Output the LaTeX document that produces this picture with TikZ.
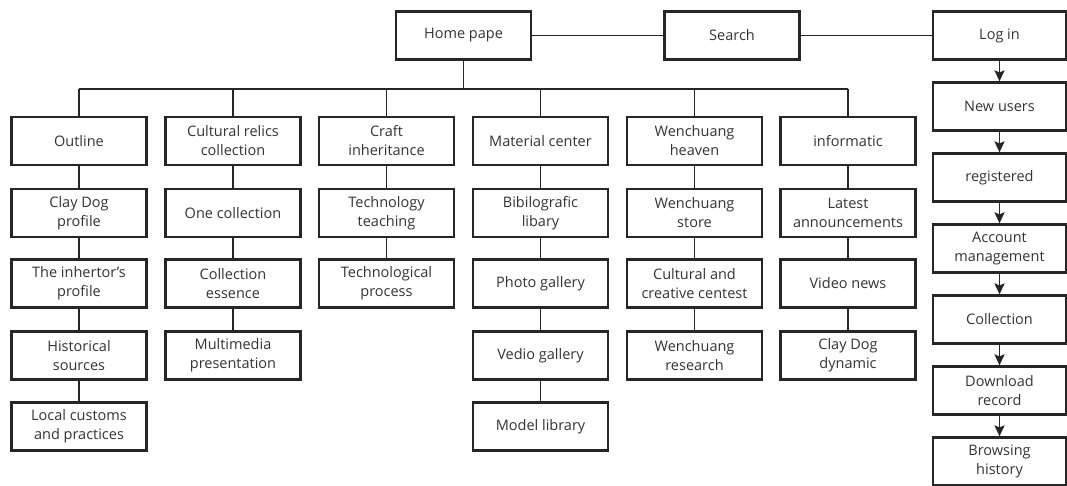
\documentclass[tikz,border=0pt]{standalone}
\usepackage{fontspec}
\setmainfont{Open Sans}
\usetikzlibrary{arrows.meta}

\begin{document}
\begin{tikzpicture}[x=1pt, y=-1pt, >={Stealth[length=11pt,width=10pt,inset=2pt]},
    box/.style={draw=black!85, line width=2.2pt, minimum width=135pt, minimum height=48pt,
        align=center, inner sep=2pt, text=black!80, font=\fontsize{14.5}{19}\selectfont},
    sidebox/.style={box, minimum width=133pt},
    link/.style={draw=black!85, line width=1.9pt}]
    \useasboundingbox (0,0) rectangle (1067,486);

    % top row
    \node[box] (home) at (463.5,35.5) {Home pape};
    \node[box] (search) at (732,35.5) {Search};
    \node[sidebox] (login) at (999.5,35.5) {Log in};
    \draw[link] (home) -- (search);
    \draw[link] (search) -- (login);

    % sections
    \node[box] (outline) at (79,141) {Outline};
    \node[box] (relics) at (233,141) {Cultural relics\\collection};
    \node[box] (craft) at (386.5,141) {Craft\\inheritance};
    \node[box] (material) at (540.5,141) {Material center};
    \node[box] (wenheaven) at (694.5,141) {Wenchuang\\heaven};
    \node[box] (info) at (848,141) {informatic};

    \coordinate (bus) at (463.5,89);
    \draw[link] (home) -- (home |- bus);
    \draw[link] (outline.north |- bus) -- (info.north |- bus);
    \draw[link] (outline) -- (outline |- bus);
    \draw[link] (relics) -- (relics |- bus);
    \draw[link] (craft) -- (craft |- bus);
    \draw[link] (material) -- (material |- bus);
    \draw[link] (wenheaven) -- (wenheaven |- bus);
    \draw[link] (info) -- (info |- bus);

    % Outline
    \node[box] (clay) at (79,213) {Clay Dog\\profile};
    \node[box] (inhertor) at (79,283.5) {The inhertor's\\profile};
    \node[box] (histsrc) at (79,355.5) {Historical\\sources};
    \node[box] (customs) at (79,426.5) {Local customs\\and practices};
    \draw[link] (outline) -- (clay) -- (inhertor) -- (histsrc) -- (customs);

    % Cultural relics collection
    \node[box] (onecoll) at (233,213) {One collection};
    \node[box] (essence) at (233,283.5) {Collection\\essence};
    \node[box] (multimedia) at (233,355.5) {Multimedia\\presentation};
    \draw[link] (relics) -- (onecoll) -- (essence) -- (multimedia);

    % Craft inheritance
    \node[box] (teaching) at (386.5,213) {Technology\\teaching};
    \node[box] (process) at (386.5,283.5) {Technological\\process};
    \draw[link] (craft) -- (teaching) -- (process);

    % Material center
    \node[box] (biblio) at (540.5,213) {Bibilografic\\libary};
    \node[box] (photo) at (540.5,283.5) {Photo gallery};
    \node[box] (vedio) at (540.5,355.5) {Vedio gallery};
    \node[box] (model) at (540.5,426.5) {Model library};
    \draw[link] (material) -- (biblio) -- (photo) -- (vedio) -- (model);

    % Wenchuang heaven
    \node[box] (store) at (694.5,213) {Wenchuang\\store};
    \node[box] (contest) at (694.5,283.5) {Cultural and\\creative centest};
    \node[box] (research) at (694.5,355.5) {Wenchuang\\research};
    \draw[link] (wenheaven) -- (store) -- (contest) -- (research);

    % informatic
    \node[box] (latest) at (848,213) {Latest\\announcements};
    \node[box] (vnews) at (848,283.5) {Video news};
    \node[box] (dynamic) at (848,355.5) {Clay Dog\\dynamic};
    \draw[link] (info) -- (latest) -- (vnews) -- (dynamic);

    % user column
    \node[sidebox] (newusers) at (999.5,106.5) {New users};
    \node[sidebox] (registered) at (999.5,177.5) {registered};
    \node[sidebox] (account) at (999.5,248.5) {Account\\management};
    \node[sidebox] (collect) at (999.5,319.5) {Collection};
    \node[sidebox] (download) at (999.5,390.5) {Download\\record};
    \node[sidebox] (browse) at (999.5,461.5) {Browsing\\history};
    \draw[link,->] (login) -- (newusers);
    \draw[link,->] (newusers) -- (registered);
    \draw[link,->] (registered) -- (account);
    \draw[link,->] (account) -- (collect);
    \draw[link,->] (collect) -- (download);
    \draw[link,->] (download) -- (browse);
\end{tikzpicture}
\end{document}
